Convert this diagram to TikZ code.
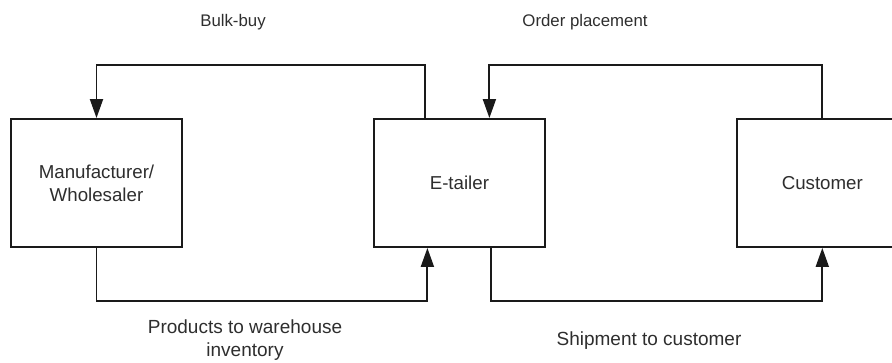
\documentclass[tikz,border=0pt]{standalone}
\usepackage{fontspec}
\setmainfont{Liberation Sans}
\usetikzlibrary{arrows.meta,positioning}
\definecolor{ink}{HTML}{1A1A1A}
\definecolor{textgray}{HTML}{2E2E2E}

\begin{document}
\begin{tikzpicture}[
      party/.style={
        draw=ink, line width=1.9pt, fill=white, align=center,
        font=\fontsize{18.7}{23}\selectfont, text=textgray,
        minimum width=171pt, minimum height=128pt, inner sep=0pt
      },
      flowtext/.style={
        align=center, font=\fontsize{16.8}{23}\selectfont, text=textgray
      },
      lowtext/.style={
        flowtext, font=\fontsize{19}{23}\selectfont
      },
      flow/.style={-{Triangle[length=19pt,width=13pt]}, line width=1.9pt, draw=ink},
      node distance=190pt
    ]
    \useasboundingbox (0pt,0pt) rectangle (892pt,-363pt);

    \node[party] (maker) at (96.5pt,-183pt) {Manufacturer/\\Wholesaler};
    \node[party, right=of maker] (etailer) {E-tailer};
    \node[party, right=of etailer] (customer) {Customer};

    \node[flowtext] (bulkbuy) at (233pt,-22pt) {Bulk-buy};
    \node[flowtext] (order) at (585pt,-22pt) {Order placement};
    \node[lowtext] (products) at (245pt,-340pt) {Products to warehouse\\inventory};
    \node[lowtext] (shipment) at (649pt,-341pt) {Shipment to customer};

    \draw[flow] ([xshift=-34pt]etailer.north) -- ++(0,53pt) -| (maker.north);
    \draw[flow] (customer.north) -- ++(0,53pt) -| ([xshift=30pt]etailer.north);
    \draw[flow] (maker.south) -- ++(0,-53pt) -| ([xshift=-32pt]etailer.south);
    \draw[flow] ([xshift=32pt]etailer.south) -- ++(0,-53pt) -| (customer.south);
  \end{tikzpicture}
\end{document}
